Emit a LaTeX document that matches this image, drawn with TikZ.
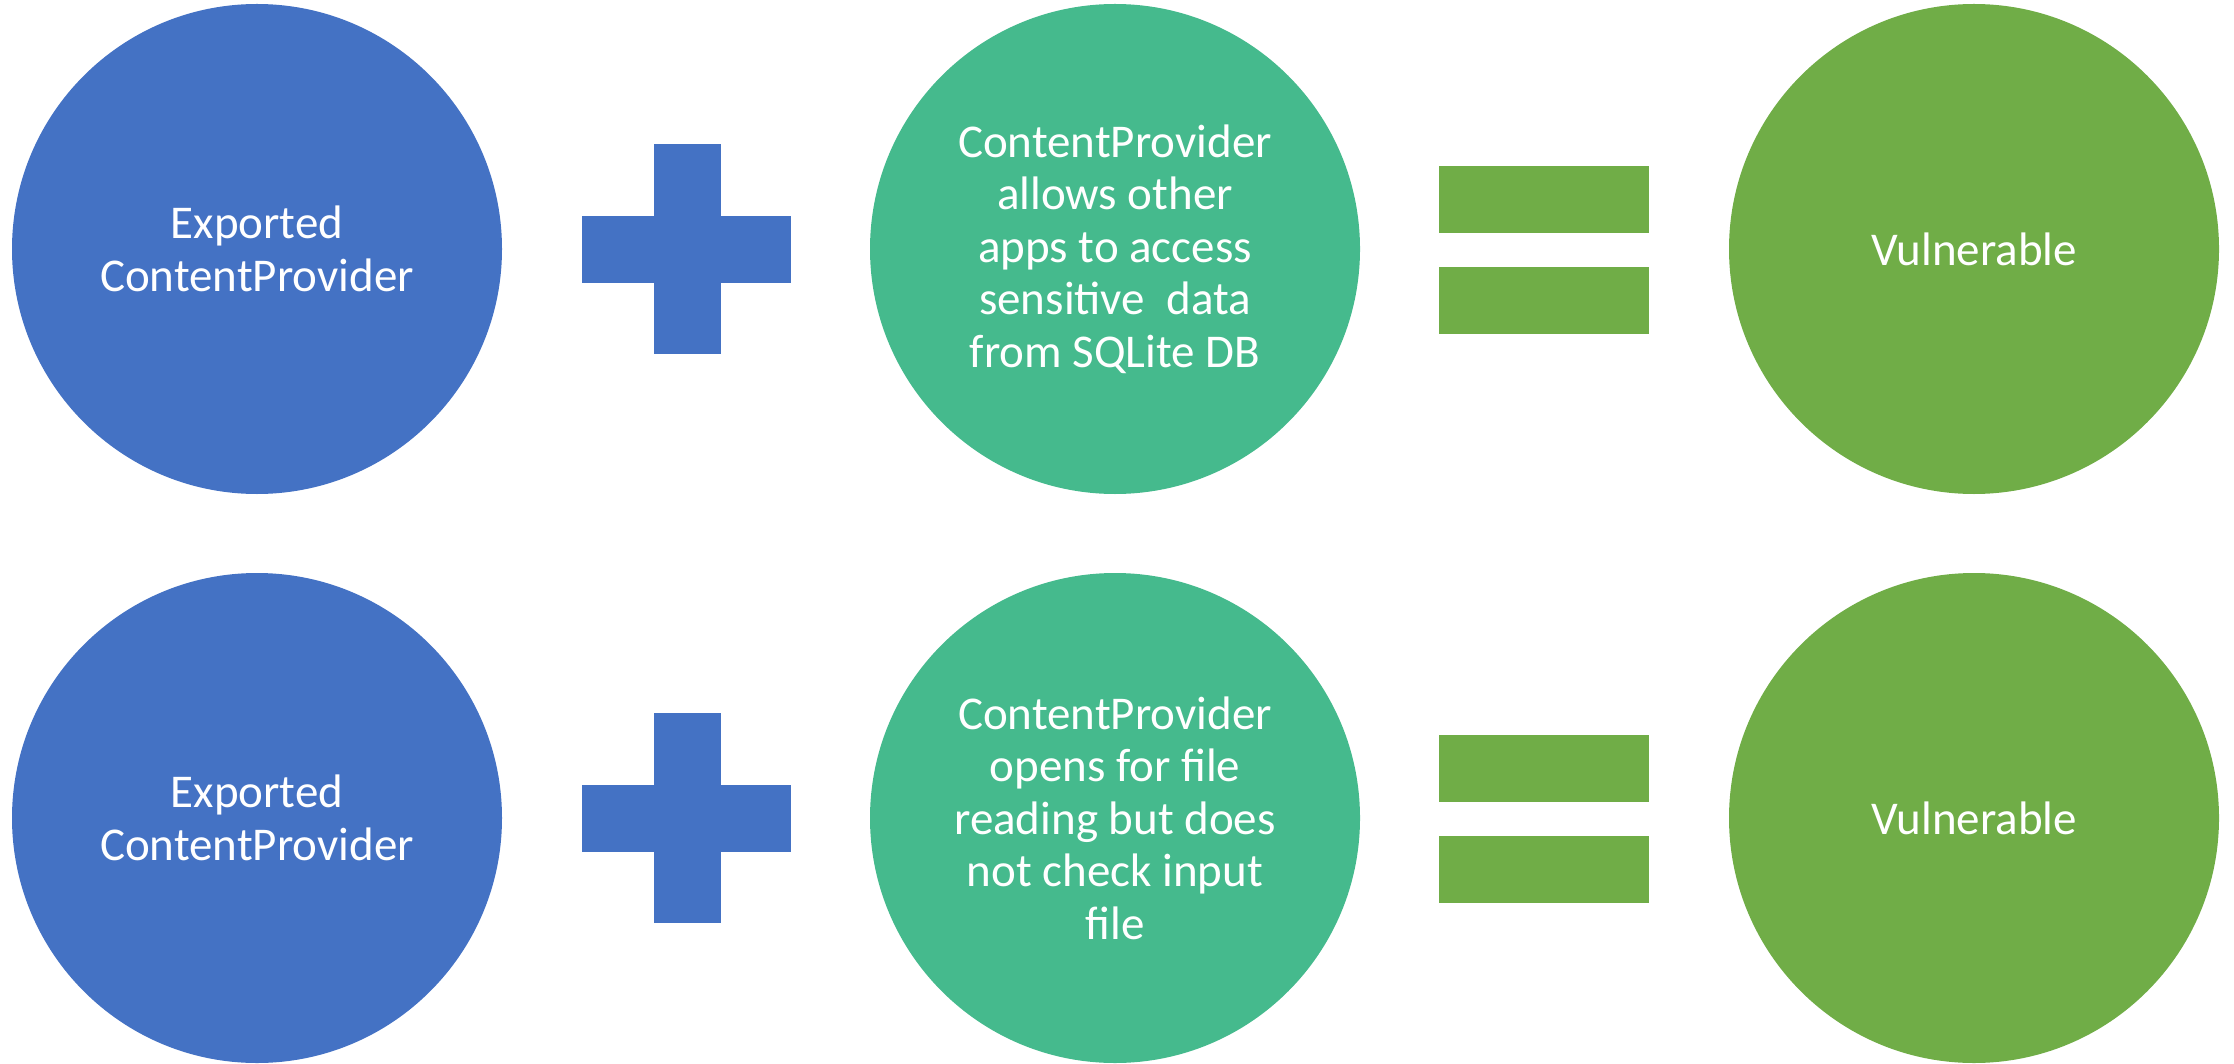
\documentclass[tikz,border=0pt]{standalone}
\usepackage{fontspec}
\setmainfont{Carlito}
\definecolor{cblue}{RGB}{68,114,196}
\definecolor{cteal}{RGB}{69,186,141}
\definecolor{cgreen}{RGB}{112,173,71}
\begin{document}
\begin{tikzpicture}[x=1pt,y=-1pt,
  ball/.style={circle, minimum size=490pt, inner sep=0pt, text=white, align=center,
    font=\fontsize{47}{52.5}\selectfont},
  plusbar/.style={fill=cblue},
  eqbar/.style={fill=cgreen}]
\useasboundingbox (0,0) rectangle (2234,1064);
\foreach \r/\dy in {1/0, 2/569} {
  \fill[plusbar] (582,216+\dy) rectangle (791,283+\dy);
  \fill[plusbar] (654,144+\dy) rectangle (721,354+\dy);
  \fill[eqbar] (1439,166+\dy) rectangle (1649,233+\dy);
  \fill[eqbar] (1439,267+\dy) rectangle (1649,334+\dy);
}
\node[ball, fill=cblue] (a1) at (257,249) {Exported\\ContentProvider};
\node[ball, fill=cteal] (b1) at (1115,249) {ContentProvider\\allows other\\apps to access\\sensitive\ \ data\\from SQLite DB};
\node[ball, fill=cgreen] (c1) at (1974,249) {Vulnerable};
\node[ball, fill=cblue] (a2) at (257,818) {Exported\\ContentProvider};
\node[ball, fill=cteal] (b2) at (1115,818) {ContentProvider\\opens for file\\reading but does\\not check input\\file};
\node[ball, fill=cgreen] (c2) at (1974,818) {Vulnerable};
\end{tikzpicture}
\end{document}
